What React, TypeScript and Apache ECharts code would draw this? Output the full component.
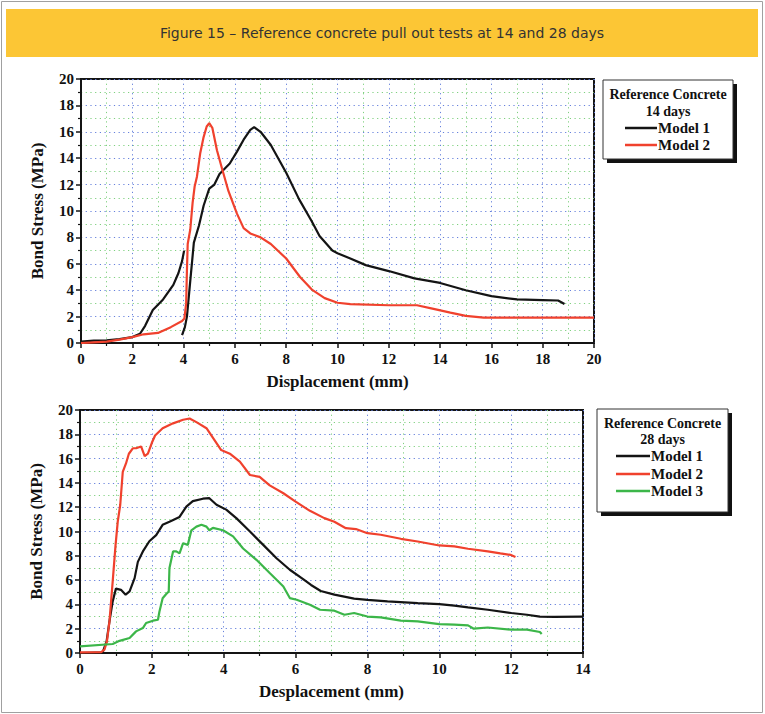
import React, { useEffect, useRef } from "react";
import * as echarts from "echarts";

// Pull-out test curves: [displacement (mm), bond stress (MPa)]
const days14Model1: (number | string)[][] = [
  [0, 0.1], [0.5, 0.18], [1, 0.2], [1.5, 0.3], [2, 0.45], [2.3, 0.7], [2.5, 1.3],
  [2.8, 2.5], [3.2, 3.3], [3.6, 4.4], [3.8, 5.3], [3.94, 6.2], [4.02, 7.0],
  [4.0, "-"],
  [3.94, 0.6], [4.05, 1.2], [4.13, 2.0], [4.25, 4.5], [4.4, 7.6], [4.6, 8.9],
  [4.78, 10.4], [5.0, 11.7], [5.2, 12.0], [5.4, 12.8], [5.8, 13.6], [6.08, 14.5],
  [6.34, 15.4], [6.6, 16.15], [6.75, 16.35], [7.0, 16.0], [7.4, 15.0], [8.0, 12.9],
  [8.5, 10.9], [9.0, 9.2], [9.3, 8.1], [9.8, 7.0], [10.0, 6.8], [10.5, 6.4],
  [11.1, 5.9], [12.0, 5.45], [13.0, 4.9], [14.0, 4.55], [15.0, 4.0], [16.0, 3.55],
  [17.0, 3.3], [18.0, 3.25], [18.6, 3.22], [18.85, 2.95],
];

const days14Model2: number[][] = [
  [0, 0], [0.5, 0.05], [1, 0.1], [1.5, 0.25], [2, 0.45], [2.44, 0.66], [3, 0.76],
  [3.5, 1.2], [3.94, 1.67], [4.03, 1.85], [4.1, 3.0], [4.13, 5.5], [4.16, 7.5],
  [4.26, 8.6], [4.35, 10.6], [4.43, 11.85], [4.52, 12.6], [4.65, 14.4], [4.78, 15.6],
  [4.9, 16.4], [5.0, 16.65], [5.12, 16.3], [5.3, 14.6], [5.5, 13.2], [5.75, 11.5],
  [6.08, 9.8], [6.34, 8.7], [6.6, 8.3], [7.0, 8.0], [7.4, 7.5], [8.0, 6.4],
  [8.54, 5.0], [9.0, 4.05], [9.5, 3.4], [10.0, 3.05], [10.5, 2.95], [12.0, 2.86],
  [13.1, 2.86], [13.7, 2.6], [14.4, 2.3], [15.0, 2.05], [15.7, 1.92], [16.3, 1.92],
  [20, 1.92],
];

const days28Model1: number[][] = [
  [0, 0], [0.63, 0.05], [0.74, 0.96], [0.82, 2.6], [0.91, 4.25], [1.0, 5.3],
  [1.14, 5.2], [1.27, 4.8], [1.38, 5.07], [1.52, 6.16], [1.61, 7.5], [1.75, 8.36],
  [1.93, 9.2], [2.12, 9.7], [2.3, 10.55], [2.49, 10.8], [2.77, 11.2], [2.96, 12.05],
  [3.14, 12.5], [3.42, 12.7], [3.6, 12.74], [3.8, 12.2], [4.07, 11.8], [4.35, 11.1],
  [4.73, 10.0], [5.1, 8.9], [5.47, 7.8], [5.84, 6.85], [6.2, 6.1], [6.43, 5.6],
  [6.7, 5.1], [7.08, 4.8], [7.63, 4.47], [8.0, 4.38], [8.56, 4.25], [9.4, 4.1],
  [10.0, 4.03], [10.42, 3.9], [10.8, 3.75], [11.35, 3.56], [12.0, 3.29],
  [12.44, 3.15], [12.8, 3.0], [13.2, 2.98], [14, 3.0],
];

const days28Model2: number[][] = [
  [0, 0.05], [0.59, 0.08], [0.68, 0.27], [0.75, 0.96], [0.82, 2.6], [0.91, 5.9],
  [0.99, 8.9], [1.05, 10.8], [1.12, 12.2], [1.19, 14.9], [1.28, 15.6], [1.36, 16.4],
  [1.47, 16.85], [1.56, 16.85], [1.7, 17.0], [1.8, 16.2], [1.89, 16.4], [2.0, 17.3],
  [2.09, 17.9], [2.3, 18.5], [2.59, 18.9], [2.87, 19.2], [3.05, 19.3], [3.24, 19.0],
  [3.52, 18.5], [3.93, 16.7], [4.17, 16.4], [4.45, 15.75], [4.73, 14.65], [5.0, 14.5],
  [5.28, 13.8], [5.66, 13.15], [5.98, 12.5], [6.4, 11.7], [6.8, 11.1], [7.08, 10.8],
  [7.4, 10.27], [7.68, 10.2], [8.0, 9.86], [8.37, 9.73], [8.93, 9.4], [9.4, 9.18],
  [10.0, 8.85], [10.42, 8.77], [10.8, 8.58], [11.35, 8.36], [11.7, 8.2],
  [11.98, 8.08], [12.12, 7.9],
];

const days28Model3: number[][] = [
  [0, 0.55], [0.91, 0.74], [1.1, 1.0], [1.38, 1.23], [1.56, 1.78], [1.75, 2.05],
  [1.84, 2.47], [2.03, 2.66], [2.17, 2.74], [2.21, 3.4], [2.3, 4.5], [2.4, 4.85],
  [2.47, 5.07], [2.49, 7.0], [2.59, 8.36], [2.68, 8.36], [2.77, 8.2], [2.87, 9.04],
  [3.0, 8.9], [3.1, 10.1], [3.24, 10.4], [3.38, 10.55], [3.52, 10.4], [3.6, 10.1],
  [3.7, 10.3], [3.98, 10.1], [4.26, 9.6], [4.54, 8.6], [4.91, 7.67], [5.28, 6.58],
  [5.66, 5.48], [5.84, 4.52], [6.03, 4.38], [6.4, 3.97], [6.68, 3.56], [7.08, 3.48],
  [7.36, 3.15], [7.63, 3.29], [8.0, 3.0], [8.37, 2.93], [8.93, 2.66], [9.4, 2.6],
  [10.0, 2.38], [10.42, 2.33], [10.8, 2.27], [10.96, 2.0], [11.35, 2.1], [12.0, 1.92],
  [12.44, 1.92], [12.8, 1.73], [12.85, 1.56],
];

const figureTitle = "Figure 15 – Reference concrete pull out tests at 14 and 28 days";
const yName = "Bond Stress (MPa)";
const xNameTop = "Displacement (mm)";
const xNameBottom = "Desplacement (mm)";
const legendTop = ["Reference Concrete", "14 days", "Model 1", "Model 2"];
const legendBottom = ["Reference Concrete", "28 days", "Model 1", "Model 2", "Model 3"];

const BLACK = "#141414";
const RED = "#f0412d";
const GREEN = "#3cb649";
const SERIF = "'Liberation Serif', 'Times New Roman', serif";

const tickLabel = { fontFamily: SERIF, fontWeight: "bold" as const, fontSize: 15, color: "#111" };
const nameText = { fontFamily: SERIF, fontWeight: "bold" as const, fontSize: 17, color: "#111" };

function valueAxis(gridIndex: number, max: number, name: string, nameGap: number, margin: number) {
  return {
    type: "value",
    gridIndex,
    min: 0,
    max,
    interval: 2,
    name,
    nameLocation: "middle",
    nameGap,
    nameTextStyle: nameText,
    axisLine: { show: true, onZero: false, lineStyle: { color: BLACK, width: 2 } },
    axisTick: { show: true, inside: false, length: 5, lineStyle: { color: BLACK, width: 1.5 } },
    minorTick: { show: true, splitNumber: 2, length: 3, lineStyle: { color: BLACK, width: 1.2 } },
    axisLabel: { ...tickLabel, margin },
    splitLine: { show: true, lineStyle: { color: "#6680dc", type: [1.2, 3.5], width: 1 } },
    minorSplitLine: { show: true, lineStyle: { color: "#7fd07f", type: [1.2, 3.5], width: 1 } },
  };
}

function curve(name: string, data: any[], color: string, xi: number) {
  return {
    type: "line",
    name,
    xAxisIndex: xi,
    yAxisIndex: xi,
    data,
    showSymbol: false,
    connectNulls: false,
    lineStyle: { color, width: 2.2 },
    itemStyle: { color },
  };
}

function legendBox(x: number, y: number, w: number, h: number, lines: string[], colors: string[], rowYs: number[], sx0: number, sx1: number) {
  const children: any[] = [
    { type: "rect", shape: { x: x + 4, y: y + 4, width: w, height: h }, style: { fill: "#111" } },
    { type: "rect", shape: { x, y, width: w, height: h }, style: { fill: "#fff", stroke: "#333", lineWidth: 1 } },
  ];
  const cx = x + w / 2;
  const head = { fontFamily: SERIF, fontWeight: "bold", fontSize: 14, fill: "#111" };
  children.push({ type: "text", style: { ...head, text: lines[0], x: cx, y: rowYs[0], align: "center", verticalAlign: "middle" } });
  children.push({ type: "text", style: { ...head, text: lines[1], x: cx, y: rowYs[1], align: "center", verticalAlign: "middle" } });
  for (let i = 2; i < lines.length; i++) {
    const ry = rowYs[i];
    children.push({ type: "line", shape: { x1: sx0, y1: ry, x2: sx1, y2: ry }, style: { stroke: colors[i - 2], lineWidth: 2.5 } });
    children.push({ type: "text", style: { ...head, fontSize: 15, text: lines[i], x: sx1 + 1, y: ry, align: "left", verticalAlign: "middle" } });
  }
  return { type: "group", children };
}

export default function App() {
  const ref = useRef<HTMLDivElement>(null);

  useEffect(() => {
    if (!ref.current) return;
    const chart = echarts.init(ref.current, null, { renderer: "svg" });
    chart.setOption({
      animation: false,
      backgroundColor: "#ffffff",
      grid: [
        { left: 81, top: 79, width: 513, height: 264, show: true, borderColor: BLACK, borderWidth: 2, backgroundColor: "transparent" },
        { left: 80, top: 410, width: 503, height: 243, show: true, borderColor: BLACK, borderWidth: 2, backgroundColor: "transparent" },
      ],
      xAxis: [
        valueAxis(0, 20, xNameTop, 30, 8),
        valueAxis(1, 14, xNameBottom, 30, 8),
      ],
      yAxis: [
        valueAxis(0, 20, yName, 35, 7),
        valueAxis(1, 20, yName, 35, 7),
      ],
      series: [
        curve("Model 1", days14Model1, BLACK, 0),
        curve("Model 2", days14Model2, RED, 0),
        curve("Model 1", days28Model1, BLACK, 1),
        curve("Model 2", days28Model2, RED, 1),
        curve("Model 3", days28Model3, GREEN, 1),
      ],
      graphic: [
        { type: "rect", z: -10, shape: { x: 1.5, y: 1.5, width: 761, height: 711 }, style: { fill: "none", stroke: "#a0a0a0", lineWidth: 1 } },
        { type: "rect", shape: { x: 6, y: 9, width: 752, height: 48 }, style: { fill: "#fcc635" } },
        {
          type: "text",
          style: {
            text: figureTitle, x: 382, y: 33, align: "center", verticalAlign: "middle",
            fontFamily: "'DejaVu Sans', sans-serif", fontSize: 14, fill: "#333",
          },
        },
        legendBox(603, 80, 130, 79, legendTop, [BLACK, RED], [94, 111, 128, 145], 625, 657),
        legendBox(597, 409, 131, 103, legendBottom, [BLACK, RED, GREEN], [423, 439, 456, 474, 491], 616, 650),
      ],
    });
    return () => chart.dispose();
  }, []);

  return (
    <div
      ref={ref}
      style={{ position: "fixed", left: 0, top: 0, width: 765, height: 714, background: "#fff" }}
    />
  );
}
